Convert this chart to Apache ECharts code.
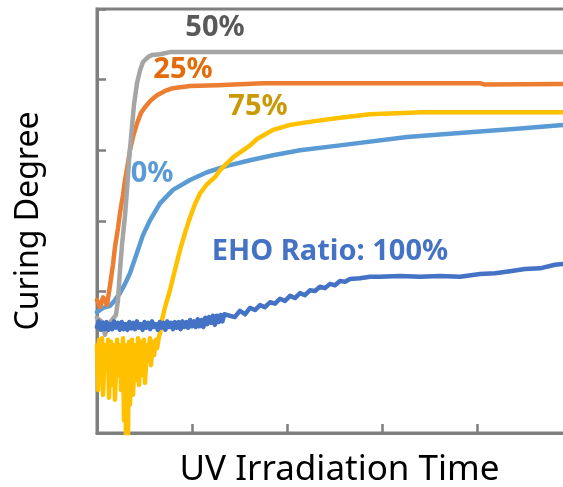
<!DOCTYPE html>
<html>
<head>
<meta charset="utf-8">
<script src="https://cdn.jsdelivr.net/npm/echarts@6/dist/echarts.min.js"></script>
<style>
  html, body { margin: 0; padding: 0; background: #fff; }
  #chart { width: 563px; height: 487px; }
</style>
</head>
<body>
<div id="chart"></div>
<script>
// ---- data (x: irradiation time units, y: curing degree units) ----
var seriesNames = ['0%', '25%', '50%', '75%', 'EHO Ratio: 100%'];

var ratio0 = [[0,1.71],[0.063,1.77],[0.137,1.80],[0.189,1.88],[0.242,1.98],[0.295,2.11],[0.347,2.26],
  [0.421,2.55],[0.484,2.80],[0.558,3.01],[0.663,3.25],[0.80,3.44],[0.979,3.58],[1.158,3.69],[1.368,3.78],
  [1.611,3.86],[1.853,3.93],[2.137,4.00],[2.558,4.07],[3.263,4.19],[3.958,4.26],[4.453,4.31],[4.905,4.36],[5.0,4.37]];

var ratio25 = [[0,1.88],[0.032,1.78],[0.063,1.92],[0.105,1.81],[0.137,2.09],[0.168,2.38],[0.189,2.63],
  [0.221,2.90],[0.242,3.11],[0.274,3.37],[0.295,3.58],[0.326,3.82],[0.347,4.00],[0.379,4.19],[0.421,4.38],
  [0.463,4.53],[0.505,4.61],[0.568,4.71],[0.632,4.78],[0.716,4.84],[0.80,4.88],[0.979,4.91],[1.263,4.92],
  [1.747,4.95],[4.03,4.95],[4.08,4.93],[4.9,4.94],[5.0,4.94]];

var ratio50 = [[0,1.63],[0.053,1.57],[0.084,1.39],[0.116,1.53],[0.158,1.60],[0.20,1.67],[0.221,1.88],
  [0.242,2.31],[0.263,2.66],[0.295,3.08],[0.316,3.44],[0.337,3.86],[0.368,4.33],[0.389,4.64],[0.421,4.95],
  [0.453,5.13],[0.484,5.25],[0.537,5.32],[0.579,5.35],[0.663,5.36],[0.768,5.39],[5.0,5.39]];

var ratio75 = [[0,1.24],[0.011,0.61],[0.021,1.32],[0.032,0.75],[0.053,1.34],[0.063,0.54],[0.084,1.24],
  [0.095,0.89],[0.116,1.32],[0.126,0.50],[0.147,1.29],[0.158,0.68],[0.179,1.24],[0.189,0.47],[0.211,1.32],
  [0.221,0.82],[0.242,1.24],[0.253,0.61],[0.274,1.34],[0.284,0.18],[0.295,1.24],[0.305,-0.1],[0.316,1.17],
  [0.326,-0.1],[0.337,1.29],[0.347,0.40],[0.368,1.32],[0.379,0.54],[0.40,1.24],[0.411,0.75],[0.432,1.34],
  [0.442,0.68],[0.463,1.29],[0.474,0.82],[0.495,1.32],[0.505,0.71],[0.526,1.24],[0.537,1.03],[0.558,1.34],
  [0.568,0.96],[0.589,1.29],[0.60,1.10],[0.621,1.32],[0.632,1.20],[0.653,1.37],[0.663,1.41],
  [0.684,1.60],[0.716,1.78],[0.768,2.02],[0.821,2.31],[0.874,2.59],[0.926,2.83],[0.979,3.05],[1.032,3.24],
  [1.084,3.39],[1.158,3.52],[1.242,3.62],[1.295,3.72],[1.432,3.90],[1.611,4.07],[1.684,4.16],[1.853,4.29],
  [2.032,4.36],[2.274,4.41],[2.558,4.46],[2.874,4.51],[3.432,4.54],[4.905,4.54],[5.0,4.54]];

var ratio100 = [[0,1.50],[0.02,1.58],[0.04,1.46],[0.06,1.56],[0.08,1.47],[0.10,1.57],[0.12,1.46],[0.14,1.54],
  [0.16,1.47],[0.18,1.58],[0.20,1.49],[0.22,1.56],[0.24,1.46],[0.26,1.57],[0.28,1.47],[0.30,1.54],[0.32,1.46],
  [0.34,1.57],[0.36,1.48],[0.38,1.56],[0.40,1.47],[0.42,1.58],[0.44,1.49],[0.46,1.54],[0.48,1.46],[0.50,1.57],
  [0.52,1.49],[0.54,1.56],[0.56,1.47],[0.58,1.58],[0.60,1.50],[0.62,1.54],[0.64,1.46],[0.66,1.57],[0.68,1.49],
  [0.70,1.56],[0.72,1.46],[0.74,1.58],[0.76,1.50],[0.78,1.56],[0.80,1.47],[0.82,1.57],[0.84,1.49],[0.86,1.57],
  [0.88,1.47],[0.90,1.58],[0.92,1.50],[0.94,1.57],[0.96,1.49],[0.98,1.60],[1.00,1.51],[1.02,1.58],[1.04,1.50],
  [1.06,1.61],[1.08,1.51],[1.10,1.60],[1.12,1.50],[1.14,1.63],[1.16,1.54],[1.18,1.64],[1.20,1.56],[1.22,1.66],
  [1.24,1.53],[1.26,1.66],[1.28,1.57],[1.30,1.67],[1.32,1.58],[1.34,1.68],[1.45,1.64],[1.505,1.73],[1.558,1.68],
  [1.61,1.77],[1.663,1.74],[1.716,1.81],[1.768,1.78],[1.821,1.85],[1.874,1.83],[1.926,1.90],[1.979,1.87],
  [2.032,1.94],[2.084,1.91],[2.137,1.98],[2.189,1.95],[2.242,2.02],[2.295,2.01],[2.347,2.07],[2.40,2.05],
  [2.453,2.11],[2.505,2.09],[2.558,2.15],[2.611,2.14],[2.663,2.18],[2.768,2.19],[2.874,2.21],[2.979,2.21],
  [3.189,2.22],[3.40,2.21],[3.611,2.22],[3.821,2.21],[4.032,2.25],[4.189,2.26],[4.347,2.29],[4.505,2.32],
  [4.663,2.33],[4.821,2.38],[4.905,2.39],[5.0,2.41]];

var xTicks = [0, 1, 2, 3, 4, 5];
var yTicks = [0, 1, 2, 3, 4, 5, 6];

var lineColors = ['#5b9bd5', '#ed7d31', '#a5a5a5', '#ffc000', '#4472c4'];
var labelColors = ['#5b9bd5', '#e36c0a', '#595959', '#c99a06', '#4472c4'];
var allData = [ratio0, ratio25, ratio50, ratio75, ratio100];

var axisGray = '#7f7f7f';
var font = '"Noto Sans", "DejaVu Sans", sans-serif';

var chart = echarts.init(document.getElementById('chart'), null, { renderer: 'canvas' });

var series = allData.map(function (d, i) {
  return {
    name: seriesNames[i],
    type: 'line',
    data: d,
    showSymbol: false,
    symbol: 'none',
    clip: true,
    lineStyle: { color: lineColors[i], width: 4.5, join: 'round', cap: 'round' },
    z: 2 + i
  };
});

// annotation positions (pixels)
var labelPos = [[152, 174], [183, 70], [215, 28], [258, 107], [330, 252]];

chart.setOption({
  animation: false,
  backgroundColor: '#fff',
  grid: {
    left: 97, top: 9, right: -9, bottom: 54,
    containLabel: false, outerBoundsMode: 'none',
    show: true, borderColor: axisGray, borderWidth: 3, backgroundColor: 'transparent'
  },
  xAxis: {
    type: 'value', min: xTicks[0], max: xTicks[xTicks.length - 1], interval: 1,
    name: 'UV Irradiation Time', nameLocation: 'middle', nameGap: 20,
    nameTextStyle: { fontFamily: font, fontSize: 35, color: '#000', verticalAlign: 'top', padding: [0, 0, 0, 10] },
    axisLine: { show: true, lineStyle: { color: axisGray, width: 3 } },
    axisTick: { show: true, inside: true, length: 9, lineStyle: { color: axisGray, width: 2.5 } },
    axisLabel: { show: false },
    splitLine: { show: false }
  },
  yAxis: {
    type: 'value', min: yTicks[0], max: yTicks[yTicks.length - 1], interval: 1,
    name: 'Curing Degree', nameLocation: 'middle', nameGap: 52,
    nameTextStyle: { fontFamily: font, fontSize: 32, color: '#000' },
    axisLine: { show: true, lineStyle: { color: axisGray, width: 3 } },
    axisTick: { show: true, inside: true, length: 9, lineStyle: { color: axisGray, width: 2.5 } },
    axisLabel: { show: false },
    splitLine: { show: false }
  },
  graphic: seriesNames.map(function (n, i) {
    return {
      type: 'text', x: labelPos[i][0], y: labelPos[i][1], z: 100,
      style: {
        text: n, fill: labelColors[i], fontFamily: font, fontWeight: 'bold', fontSize: 29,
        align: 'center', verticalAlign: 'middle'
      }
    };
  }),
  series: series
});
</script>
</body>
</html>
